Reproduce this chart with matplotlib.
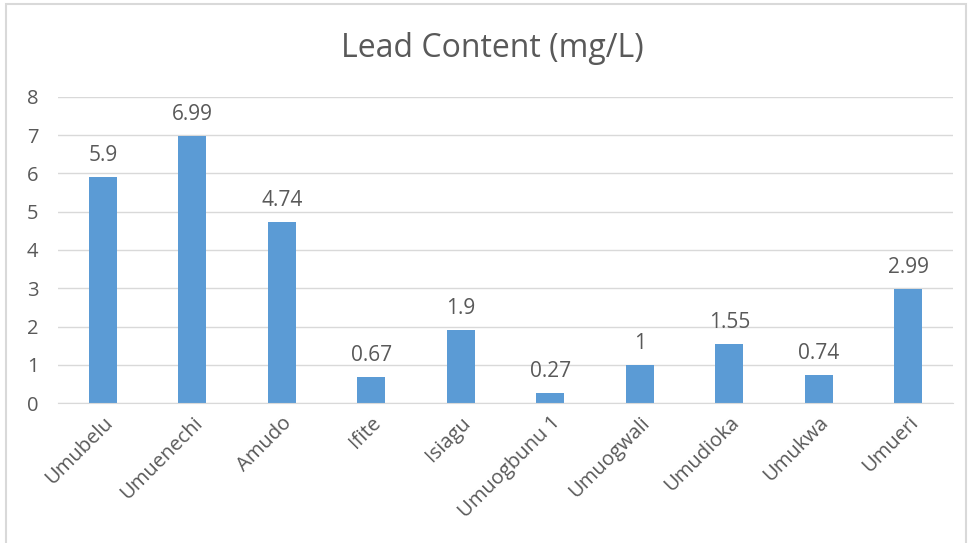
import matplotlib
matplotlib.use('Agg')
import matplotlib.pyplot as plt
from matplotlib.patches import Rectangle

sites = ['Umubelu', 'Umuenechi', 'Amudo', 'Ifite', 'Isiagu',
         'Umuogbunu 1', 'Umuogwali', 'Umudioka', 'Umukwa', 'Umueri']
lead = [5.9, 6.99, 4.74, 0.67, 1.9, 0.27, 1, 1.55, 0.74, 2.99]
value_labels = ['5.9', '6.99', '4.74', '0.67', '1.9', '0.27', '1', '1.55', '0.74', '2.99']
y_ticks = [0, 1, 2, 3, 4, 5, 6, 7, 8]

text_color = '#595959'
bar_color = '#5B9BD5'
grid_color = '#D9D9D9'

plt.rcParams['font.family'] = ['Open Sans', 'DejaVu Sans']

fig = plt.figure(figsize=(9.7, 5.43), dpi=100)
ax = fig.add_axes([0.0598, 0.2578, 0.9227, 0.5636])

x = list(range(len(sites)))
bars = ax.bar(x, lead, width=0.31, color=bar_color, zorder=3)

for bar, lab in zip(bars, value_labels):
    ax.annotate(lab,
                (bar.get_x() + bar.get_width() / 2, bar.get_height()),
                xytext=(0, 8), textcoords='offset points',
                ha='center', va='bottom', fontsize=15, color=text_color)

ax.set_xlim(-0.5, len(sites) - 0.5)
ax.set_ylim(0, 8)
ax.set_yticks(y_ticks)
ax.set_yticklabels([str(t) for t in y_ticks])
ax.yaxis.grid(True, color=grid_color, lw=1, zorder=0)
ax.set_xticks(x)
ax.set_xticklabels(sites, rotation=45, ha='right', rotation_mode='anchor')

for side in ['top', 'right', 'left']:
    ax.spines[side].set_visible(False)
ax.spines['bottom'].set_color(grid_color)
ax.spines['bottom'].set_zorder(4)
ax.tick_params(axis='both', length=0, labelsize=14.5, labelcolor=text_color)
ax.tick_params(axis='y', pad=14)
ax.tick_params(axis='x', pad=7)

fig.text(0.508, 0.91, 'Lead Content (mg/L)', ha='center', va='center',
         fontsize=23, color=text_color)

fig.patches.append(Rectangle((0.006, -0.01), 0.99, 1.002, transform=fig.transFigure,
                             fill=False, edgecolor='#D9D9D9', lw=1.5))

fig.savefig('out.png', dpi=100)
